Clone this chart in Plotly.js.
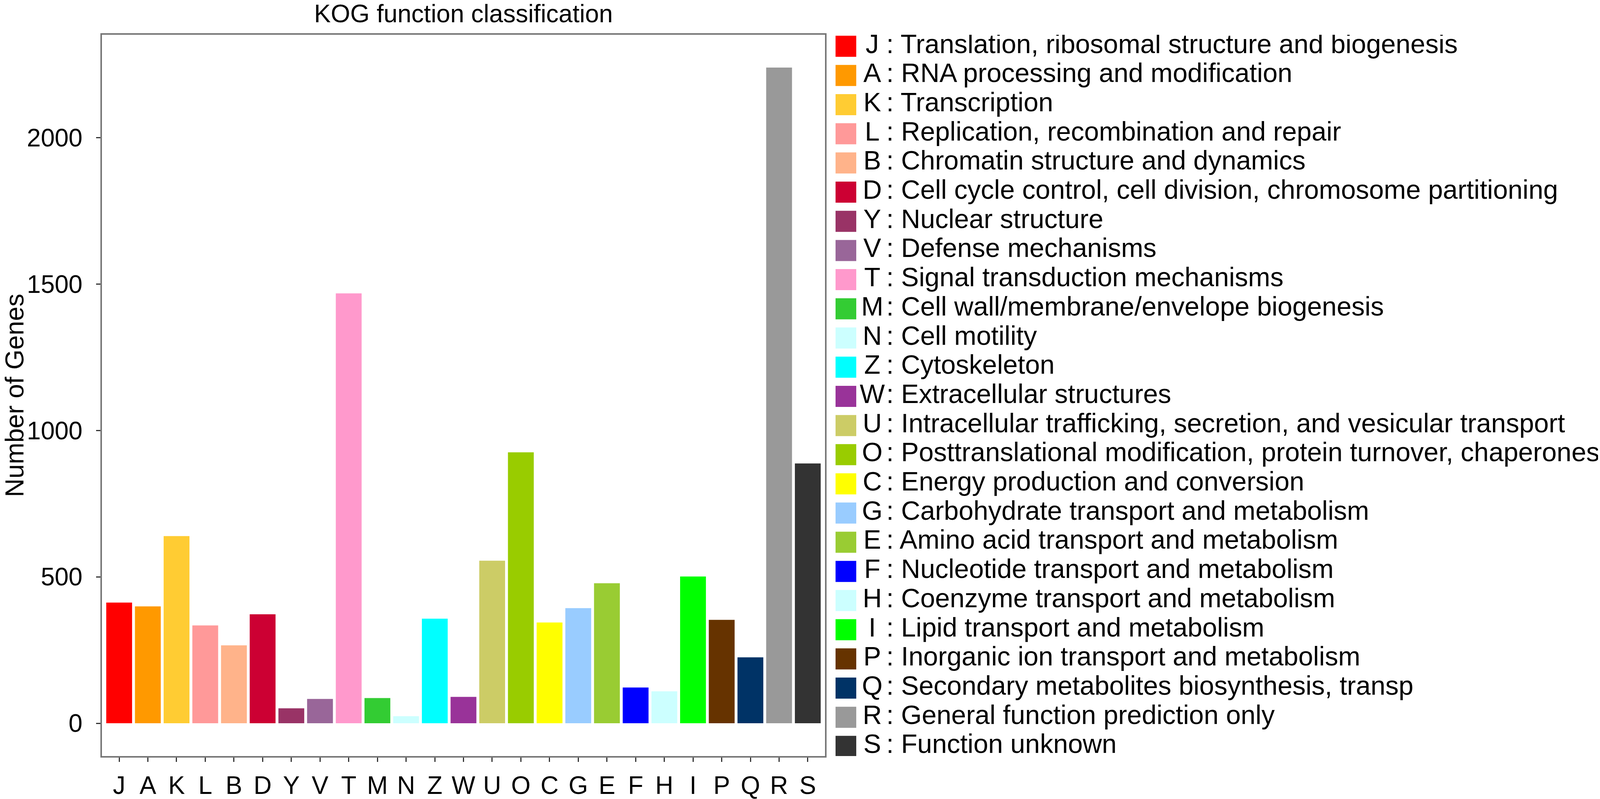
<!DOCTYPE html>
<html>
<head>
<meta charset="utf-8">
<script src="https://cdn.plot.ly/plotly-3.0.1.min.js"></script>
<style>
  html, body { margin: 0; padding: 0; background: #fff; overflow: hidden; }
</style>
</head>
<body>
<div id="plot"></div>
<script>
// KOG classes, in plotting order
var classes = ['J','A','K','L','B','D','Y','V','T','M','N','Z','W','U','O','C','G','E','F','H','I','P','Q','R','S'];
var geneCounts = [412, 399, 639, 334, 266, 372, 51, 83, 1468, 86, 24, 357, 90, 555, 925, 344, 393, 478, 122, 109, 501, 353, 225, 2239, 887];
var descriptions = [
  'Translation, ribosomal structure and biogenesis',
  'RNA processing and modification',
  'Transcription',
  'Replication, recombination and repair',
  'Chromatin structure and dynamics',
  'Cell cycle control, cell division, chromosome partitioning',
  'Nuclear structure',
  'Defense mechanisms',
  'Signal transduction mechanisms',
  'Cell wall/membrane/envelope biogenesis',
  'Cell motility',
  'Cytoskeleton',
  'Extracellular structures',
  'Intracellular trafficking, secretion, and vesicular transport',
  'Posttranslational modification, protein turnover, chaperones',
  'Energy production and conversion',
  'Carbohydrate transport and metabolism',
  'Amino acid transport and metabolism',
  'Nucleotide transport and metabolism',
  'Coenzyme transport and metabolism',
  'Lipid transport and metabolism',
  'Inorganic ion transport and metabolism',
  'Secondary metabolites biosynthesis, transp',
  'General function prediction only',
  'Function unknown'
];
var colors = ['#FF0000','#FF9900','#FFCC33','#FF9999','#FFB38A','#CC0033','#993366','#996699','#FF99CC','#33CC33',
              '#CCFFFF','#00FFFF','#993399','#CCCC66','#99CC00','#FFFF00','#99CCFF','#99CC33','#0000FF','#CCFFFF',
              '#00FF00','#663300','#003366','#999999','#333333'];
var yTicks = [0, 500, 1000, 1500, 2000];

var FONT = 'Liberation Sans, Arial, Helvetica, sans-serif';

// the window may be narrower than the 4550px design, squeeze horizontally
var W = Math.min(window.innerWidth || 4550, 4550);
var H = 2046;
var sx = W / 4550;
function px(v){ return Math.round(v * sx); }

var plotL = px(290), plotR = px(2346), padR = 5;
var areaW = W - plotL - padR;
var keyL = px(2376);

var idx = classes.map(function(c, i){ return i; });

var bars = {
  type: 'bar',
  x: classes,
  y: geneCounts,
  marker: {color: colors, line: {width: 0}},
  showlegend: false,
  hoverinfo: 'x+y'
};

// legend drawn as its own little panel on the right
var keySquares = {
  type: 'scatter', mode: 'markers',
  xaxis: 'x2', yaxis: 'y2',
  x: idx.map(function(){ return px(2405) - keyL; }),
  y: idx,
  marker: {symbol: 'square', size: Math.round(57 * (1 + sx) / 2), color: colors, line: {width: 0}},
  showlegend: false, hoverinfo: 'skip'
};
var keyLetters = {
  type: 'scatter', mode: 'text',
  xaxis: 'x2', yaxis: 'y2',
  x: idx.map(function(){ return px(2481) - keyL; }),
  y: idx,
  text: classes,
  textposition: 'middle center',
  textfont: {family: FONT, size: Math.round(75 * sx), color: '#000'},
  showlegend: false, hoverinfo: 'skip'
};
var keyText = {
  type: 'scatter', mode: 'text',
  xaxis: 'x2', yaxis: 'y2',
  x: idx.map(function(){ return px(2520) - keyL; }),
  y: idx,
  text: descriptions.map(function(d){ return ': ' + d; }),
  textposition: 'middle right',
  textfont: {family: FONT, size: Math.round(75 * sx), color: '#000'},
  showlegend: false, hoverinfo: 'skip'
};

var tickSize = Math.round(71 * sx);

var layout = {
  width: W,
  height: H,
  margin: {l: plotL, r: padR, t: 89, b: 110, pad: 0},
  paper_bgcolor: '#fff',
  plot_bgcolor: '#fff',
  font: {family: FONT, size: tickSize, color: '#000'},
  bargap: 0.1,
  title: {
    text: 'KOG function classification',
    font: {family: FONT, size: Math.round(71 * sx), color: '#000'},
    xref: 'paper', x: (plotR - plotL) / areaW / 2, xanchor: 'center',
    yref: 'container', y: 0.994, yanchor: 'top'
  },
  xaxis: {
    domain: [0, (plotR - plotL) / areaW],
    type: 'category',
    range: [-0.6, 24.6],
    tickmode: 'array', tickvals: classes, ticktext: classes,
    showgrid: false, zeroline: false,
    showline: true, mirror: true, linecolor: '#777', linewidth: 4,
    ticks: 'outside', ticklen: 11, tickwidth: 3, tickcolor: '#333',
    ticklabelstandoff: 5,
    tickfont: {family: FONT, size: tickSize, color: '#000'},
    fixedrange: true
  },
  yaxis: {
    range: [-112, 2351],
    tickvals: yTicks,
    ticktext: yTicks.map(String),
    showgrid: false, zeroline: false,
    showline: true, mirror: true, linecolor: '#777', linewidth: 4,
    ticks: 'outside', ticklen: 11, tickwidth: 3, tickcolor: '#333',
    ticklabelstandoff: 22,
    tickfont: {family: FONT, size: tickSize, color: '#000'},
    title: {text: 'Number of Genes', font: {family: FONT, size: 66, color: '#000'}, standoff: 14},
    fixedrange: true
  },
  xaxis2: {
    domain: [(keyL - plotL) / areaW, 1],
    anchor: 'y2',
    range: [0, W - padR - keyL],
    visible: false, fixedrange: true
  },
  yaxis2: {
    domain: [0, 1],
    anchor: 'x2',
    range: [24.33, -0.395],
    visible: false, fixedrange: true
  }
};

Plotly.newPlot('plot', [bars, keySquares, keyLetters, keyText], layout, {displayModeBar: false, displaylogo: false});
</script>
</body>
</html>
